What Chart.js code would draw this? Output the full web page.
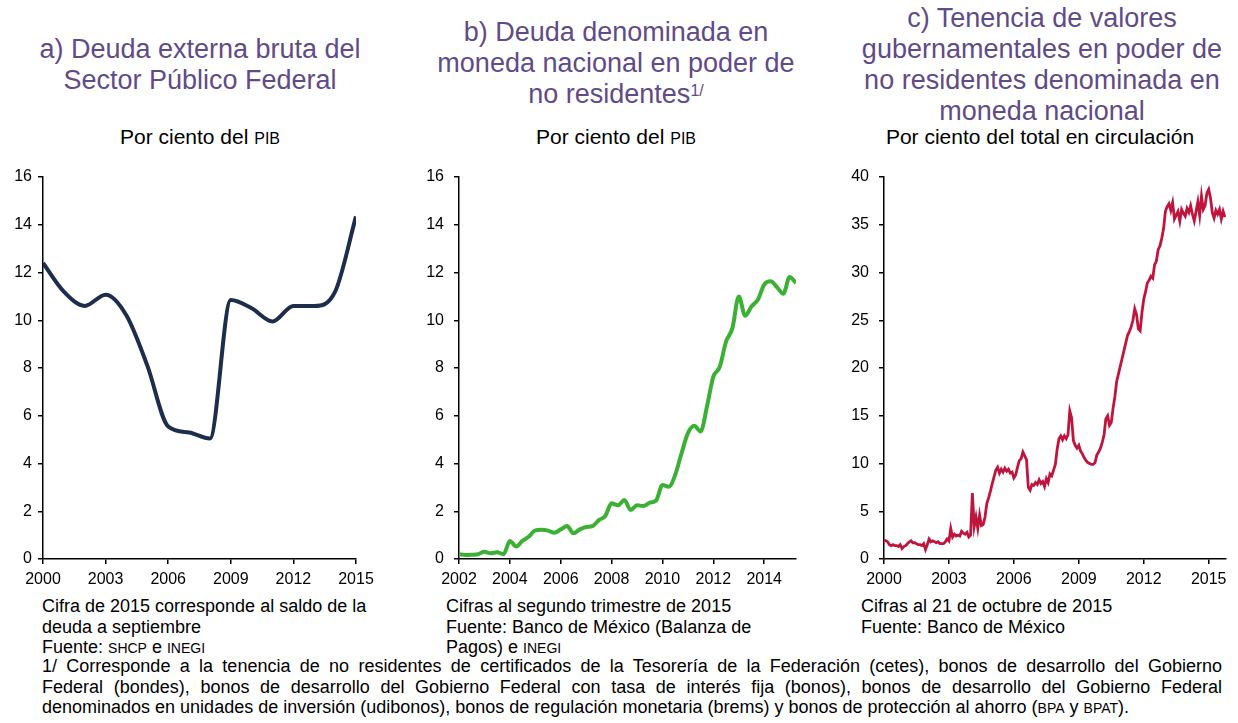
<!DOCTYPE html>
<html>
<head>
<meta charset="utf-8">
<script src="https://cdn.jsdelivr.net/npm/chart.js@4.4.1/dist/chart.umd.min.js"></script>
<style>
  body{margin:0;background:#fff;font-family:"Liberation Sans",Arial,sans-serif;color:#000;}
  #page{position:relative;width:1238px;height:723px;overflow:hidden;}
  .title{position:absolute;color:#5f4b87;font-size:27px;line-height:31px;text-align:center;white-space:nowrap;}
  .title sup{font-size:16px;vertical-align:top;position:relative;top:-4px;}
  .sub{position:absolute;font-size:21px;line-height:24px;text-align:center;white-space:nowrap;}
  .sc{font-size:16px;}
  .note{position:absolute;font-size:18px;line-height:20.5px;white-space:nowrap;}
  .note .sc{font-size:14px;}
  .just{text-align:justify;text-align-last:justify;}
  canvas{position:absolute;}
</style>
</head>
<body>
<div id="page">
  <div class="title" style="left:0;width:400px;top:34px;">a) Deuda externa bruta del<br>Sector Público Federal</div>
  <div class="title" style="left:416px;width:400px;top:17px;">b) Deuda denominada en<br>moneda nacional en poder de<br>no residentes<sup>1/</sup></div>
  <div class="title" style="left:842px;width:400px;top:3px;">c) Tenencia de valores<br>gubernamentales en poder de<br>no residentes denominada en<br>moneda nacional</div>

  <div class="sub" style="left:0;width:400px;top:125px;">Por ciento del <span class="sc">PIB</span></div>
  <div class="sub" style="left:416px;width:400px;top:125px;">Por ciento del <span class="sc">PIB</span></div>
  <div class="sub" style="left:840px;width:400px;top:125px;">Por ciento del total en circulación</div>

  <canvas id="chartA" width="400" height="430" style="left:0;top:165px;"></canvas>
  <canvas id="chartB" width="400" height="430" style="left:410px;top:165px;"></canvas>
  <canvas id="chartC" width="408" height="430" style="left:830px;top:165px;"></canvas>

  <div class="note" style="left:42px;top:596px;">Cifra de 2015 corresponde al saldo de la<br>deuda a septiembre<br>Fuente: <span class="sc">SHCP</span> e <span class="sc">INEGI</span></div>
  <div class="note" style="left:446px;top:596px;">Cifras al segundo trimestre de 2015<br>Fuente: Banco de México (Balanza de<br>Pagos) e <span class="sc">INEGI</span></div>
  <div class="note" style="left:861px;top:596px;">Cifras al 21 de octubre de 2015<br>Fuente: Banco de México</div>
  <div class="note just" style="left:42px;top:656px;width:1180px;">1/ Corresponde a la tenencia de no residentes de certificados de la Tesorería de la Federación (cetes), bonos de desarrollo del Gobierno</div>
  <div class="note just" style="left:42px;top:676.5px;width:1180px;">Federal (bondes), bonos de desarrollo del Gobierno Federal con tasa de interés fija (bonos), bonos de desarrollo del Gobierno Federal</div>
  <div class="note" style="left:42px;top:697px;">denominados en unidades de inversión (udibonos), bonos de regulación monetaria (brems) y bonos de protección al ahorro (<span class="sc">BPA</span> y <span class="sc">BPAT</span>).</div>
</div>

<script>
// ---- data ----
// a) annual, % of GDP
const yearsA = [2000,2001,2002,2003,2004,2005,2006,2007,2008,2009,2010,2011,2012,2013,2014,2015];
const deudaExterna = [12.4,11.2,10.6,11.07,10.2,8.1,5.55,5.3,5.05,10.85,10.5,9.95,10.6,10.6,11.2,14.35];
const ticksA = [2000,2003,2006,2009,2012,2015];

// b) quarterly 2002Q1 - 2015Q2, % of GDP
const startB = 2002;
const deudaNoRes = [
  0.2,0.17,0.18,0.2,      // 2002
  0.3,0.24,0.28,0.2,      // 2003
  0.75,0.52,0.77,0.94,    // 2004
  1.2,1.22,1.19,1.1,      // 2005
  1.24,1.38,1.08,1.24,    // 2006
  1.34,1.38,1.63,1.8,     // 2007
  2.33,2.25,2.47,2.05,    // 2008
  2.25,2.22,2.36,2.45,    // 2009
  3.1,3.03,3.52,4.43,     // 2010
  5.27,5.58,5.34,6.39,    // 2011
  7.64,8.04,9.11,9.67,    // 2012
  11.0,10.19,10.58,10.86, // 2013
  11.49,11.63,11.39,11.11,// 2014
  11.81,11.56             // 2015
];
const ticksB = [2002,2004,2006,2008,2010,2012,2014];

// c) monthly, % of total outstanding, Jan 2000 - Oct 2015
const startC = 2000;
const tenencia = [
  2.0,1.9,1.8,1.5,1.4,1.5,1.4,1.4,1.3,1.5,1.1,1.3,          // 2000
  1.4,1.6,1.8,1.9,1.7,1.7,1.6,1.5,1.5,1.4,1.6,1.0,          // 2001
  1.5,2.1,1.8,1.9,1.8,1.7,1.8,1.6,1.6,1.6,1.8,2.1,          // 2002
  1.9,3.2,2.3,2.6,2.4,2.5,2.4,2.9,2.7,2.6,2.8,2.3,          // 2003
  2.5,6.9,3.4,4.4,3.2,4.6,3.5,3.6,4.4,5.8,6.4,7.1,          // 2004
  7.9,8.6,9.3,9.6,9.0,9.4,9.1,9.5,9.2,9.4,9.0,9.1,          // 2005
  8.5,8.8,9.6,10.3,10.5,11.2,10.8,10.4,7.5,7.2,7.8,7.7,     // 2006
  8.0,7.8,8.3,7.9,8.1,7.6,8.4,8.0,8.9,8.7,9.3,9.9,          // 2007
  11.5,12.6,12.9,12.5,12.9,12.6,13.0,15.5,14.8,12.4,11.9,11.6, // 2008
  11.9,11.3,11.0,10.6,10.3,10.1,10.0,9.9,9.9,10.1,10.9,11.2,   // 2009
  11.6,12.2,13.0,14.7,15.0,14.0,14.3,15.8,17.0,18.6,19.4,20.2, // 2010
  21.0,21.8,22.6,23.4,23.8,24.3,25.0,26.2,25.6,24.1,23.9,25.8, // 2011
  27.2,28.0,28.9,29.2,29.6,29.4,30.8,31.2,32.4,32.8,33.6,34.6, // 2012
  36.4,36.9,37.2,36.5,37.3,35.6,36.0,36.4,35.4,36.6,36.2,35.9, // 2013
  36.7,36.3,37.0,36.1,35.4,36.4,37.4,36.0,38.0,36.6,37.0,38.3, // 2014
  38.7,37.8,36.3,35.7,36.5,36.1,36.6,35.6,36.4,35.8            // 2015
];
const ticksC = [2000,2003,2006,2009,2012,2015];

// ---- charts ----
Chart.defaults.font.family = '"Liberation Sans", Arial, sans-serif';
Chart.defaults.font.size = 16;
Chart.defaults.color = "#000";

// plot box: yWidth = left edge, padRight = canvas width - right edge, top 12, bottom 394
function makeChart(id, points, color, width, opts){
  return new Chart(document.getElementById(id), {
    type: "line",
    data: {
      datasets: [{
        data: points,
        borderColor: color,
        borderWidth: width,
        pointRadius: 0,
        tension: opts.tension,
        cubicInterpolationMode: opts.cubic ? "monotone" : "default",
        fill: false
      }]
    },
    options: {
      responsive: false,
      animation: false,
      devicePixelRatio: 1,
      layout: { padding: { top: 12, right: opts.padRight, left: 0, bottom: 0 } },
      plugins: { legend: { display: false }, tooltip: { enabled: false } },
      scales: {
        x: {
          type: "linear",
          min: opts.xMin, max: opts.xMax,
          afterBuildTicks: s => { s.ticks = opts.xTicks.map(v => ({ value: v })); },
          afterFit: s => { s.height = 36; s.paddingLeft = 0; s.paddingRight = 0; },
          ticks: { callback: v => String(v), maxRotation: 0, autoSkip: false, padding: 6, font: { size: 16 } },
          grid: { drawOnChartArea: false, drawTicks: true, tickLength: 5, color: "#000", lineWidth: 1.5 },
          border: { display: true, color: "#000", width: 1.5 }
        },
        y: {
          min: 0, max: opts.yMax,
          afterFit: s => { s.width = opts.yWidth; s.paddingTop = 0; s.paddingBottom = 0; },
          ticks: { stepSize: opts.yStep, padding: opts.yPad, font: { size: 16 } },
          grid: { drawOnChartArea: false, drawTicks: true, tickLength: 5, color: "#000", lineWidth: 1.5 },
          border: { display: true, color: "#000", width: 1.5 }
        }
      }
    }
  });
}

makeChart("chartA",
  yearsA.map((x, i) => ({ x: x, y: deudaExterna[i] })),
  "#1d2d4c", 4,
  { tension: 0.4, cubic: true, xMin: 2000, xMax: 2015, xTicks: ticksA, yMax: 16, yStep: 2, yPad: 6,
    yWidth: 43, padRight: 44 });

makeChart("chartB",
  deudaNoRes.map((v, i) => ({ x: startB + i / 4, y: v })),
  "#3cb034", 4,
  { tension: 0.4, cubic: true, xMin: 2002, xMax: 2015.25, xTicks: ticksB, yMax: 16, yStep: 2, yPad: 10,
    yWidth: 49, padRight: 14 });

makeChart("chartC",
  tenencia.map((v, i) => ({ x: startC + i / 12, y: v })),
  "#c0143c", 2.8,
  { tension: 0, cubic: false, xMin: 2000, xMax: 2015.8, xTicks: ticksC, yMax: 40, yStep: 5, yPad: 10,
    yWidth: 54, padRight: 12 });
</script>
</body>
</html>
